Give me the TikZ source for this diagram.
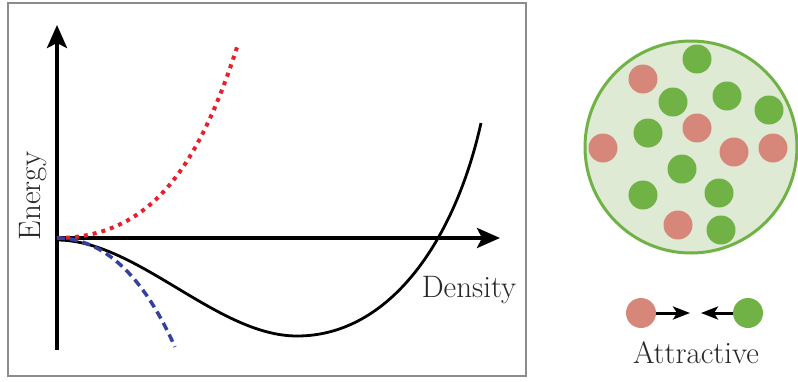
\documentclass[tikz,border=0pt]{standalone}
\usetikzlibrary{arrows.meta}
\definecolor{framegray}{RGB}{140,140,140}
\definecolor{dotred}{RGB}{232,32,44}
\definecolor{dashblue}{RGB}{52,66,158}
\definecolor{pgreen}{RGB}{112,178,70}
\definecolor{pred}{RGB}{214,135,122}
\definecolor{cfill}{RGB}{222,234,211}
\definecolor{cedge}{RGB}{112,178,70}
\begin{document}
\begin{tikzpicture}[x=1pt,y=-1pt,
  lbl/.style={font=\fontsize{31}{36}\selectfont, text=black!85, inner sep=0pt},
  axis/.style={line width=4pt, -{Stealth[length=23pt,width=20pt,inset=5pt]}},
  particle/.style={circle, inner sep=0pt, minimum size=29pt},
  gp/.style={particle, fill=pgreen},
  rp/.style={particle, fill=pred},
  legarrow/.style={line width=3pt, -{Stealth[length=17pt,width=13pt,inset=4pt]}},
  blackcurve/.style={line width=2.8pt},
  redcurve/.style={dotred, line width=4pt, dash pattern=on 4pt off 5pt},
  bluecurve/.style={dashblue, line width=3.5pt, dash pattern=on 8pt off 5pt}]
\useasboundingbox (0,0) rectangle (798,381);
% frame
\draw[framegray, line width=2pt] (8,3) rectangle (526,376);
% axes
\coordinate (O) at (57,238);
\coordinate (Ybot) at (57,350);
\coordinate (Ytip) at (57,25);
\coordinate (Xtip) at (500,238);
\draw[axis] (Ybot) -- (Ytip);
\draw[axis] (O) -- (Xtip);
% curves
\coordinate (bstart) at (57,240);
\coordinate (bmin) at (297,336);
\coordinate (bend) at (481,123);
\draw[blackcurve] (bstart) .. controls (137,240) and (217,336) .. (bmin)
  .. controls (390,336) and (455,240) .. (bend);
\draw[redcurve] plot[domain=0:1.8, samples=80, variable=\s]
  ({57+100*\s}, {238-(31*\s*\s+8.6*\s*\s*\s*\s)});
\draw[bluecurve] plot[domain=0:1.18, samples=60, variable=\s]
  ({57+100*\s}, {238+(61.9*\s*\s+11.76*\s*\s*\s*\s)});
% labels
\node[lbl, rotate=90, anchor=base] (energy) at (40,196) {Energy};
\node[lbl, anchor=base] (density) at (469,297) {Density};
% container
\node[circle, draw=cedge, fill=cfill, line width=3pt, minimum size=212pt, inner sep=0pt] (box) at (691,147) {};
% green particles
\node[gp] (g1) at (697,59) {};
\node[gp] (g2) at (727,96) {};
\node[gp] (g3) at (769,110) {};
\node[gp] (g4) at (673,102) {};
\node[gp] (g5) at (648,133) {};
\node[gp] (g6) at (682,169) {};
\node[gp] (g7) at (643,195) {};
\node[gp] (g8) at (719,193) {};
\node[gp] (g9) at (721,230) {};
% red particles
\node[rp] (r1) at (643,79) {};
\node[rp] (r2) at (697,128) {};
\node[rp] (r3) at (603,148) {};
\node[rp] (r4) at (734,152) {};
\node[rp] (r5) at (773,148) {};
\node[rp] (r6) at (678,225) {};
% legend
\node[rp, minimum size=30pt] (lr) at (641,313) {};
\node[gp, minimum size=30pt] (lg) at (748,313) {};
\coordinate (la) at (690,313);
\coordinate (lb) at (701,313);
\draw[legarrow] (lr.east) -- (la);
\draw[legarrow] (lg.west) -- (lb);
\node[lbl, anchor=base] (attr) at (696,363) {Attractive};
\end{tikzpicture}
\end{document}
